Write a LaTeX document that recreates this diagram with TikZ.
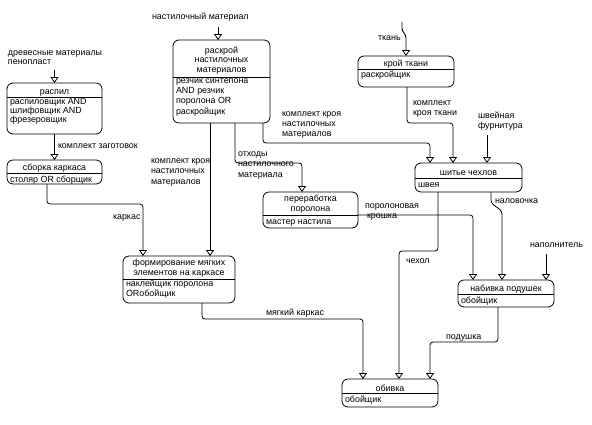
\documentclass[tikz,border=0pt]{standalone}
\usepackage{fontspec}
\setmainfont{Liberation Sans}
\usetikzlibrary{arrows.meta}
\begin{document}
\begin{tikzpicture}[x=1pt,y=-1pt,
  every node/.style={inner sep=0pt, outer sep=0pt},
  lbl/.style={font=\fontsize{8.9}{10}\selectfont, align=left, anchor=north west, execute at begin node={\rule{0pt}{8pt}}},
  ttl/.style={font=\fontsize{8.9}{10}\selectfont, align=center, anchor=north, execute at begin node={\rule{0pt}{8pt}}},
  body/.style={font=\fontsize{8.9}{10}\selectfont, align=left, anchor=north west, execute at begin node={\rule{0pt}{8pt}}},
  box/.style={draw, rounded corners=6pt, line width=0.8pt},
  flow/.style={draw, line width=0.8pt, rounded corners=3pt, -{Triangle[open,width=8pt,length=6pt]}},
  sepl/.style={draw, line width=0.8pt}
]
\useasboundingbox (0,0) rectangle (592,424);

% boxes
\node[box, minimum width=95pt, minimum height=51pt] (raspil) at (54.5,108.5) {};
\node[box, minimum width=95pt, minimum height=24pt] (sborka) at (54.5,172) {};
\node[box, minimum width=97pt, minimum height=83pt] (raskroy) at (221.5,81.5) {};
\node[box, minimum width=96pt, minimum height=31pt] (kroy) at (406,71.5) {};
\node[box, minimum width=107pt, minimum height=29pt] (shitie) at (468.5,177.5) {};
\node[box, minimum width=95pt, minimum height=36pt] (pererab) at (310.5,210) {};
\node[box, minimum width=112pt, minimum height=47pt] (form) at (179,279.5) {};
\node[box, minimum width=96pt, minimum height=27pt] (nabivka) at (506,293.5) {};
\node[box, minimum width=96pt, minimum height=28pt] (obivka) at (390,393) {};

% separators
\draw[sepl] (raspil.west |- 0,97) -- (raspil.east |- 0,97);
\draw[sepl] (sborka.west |- 0,173) -- (sborka.east |- 0,173);
\draw[sepl] (raskroy.west |- 0,77) -- (raskroy.east |- 0,77);
\draw[sepl] (kroy.west |- 0,69) -- (kroy.east |- 0,69);
\draw[sepl] (shitie.west |- 0,178) -- (shitie.east |- 0,178);
\draw[sepl] (pererab.west |- 0,215) -- (pererab.east |- 0,215);
\draw[sepl] (form.west |- 0,279) -- (form.east |- 0,279);
\draw[sepl] (nabivka.west |- 0,294) -- (nabivka.east |- 0,294);
\draw[sepl] (obivka.west |- 0,393) -- (obivka.east |- 0,393);

% titles (top = first baseline - 8)
\node[ttl] (t1) at (54.5,86) {распил};
\node[ttl] (t2) at (54.5,162.5) {сборка каркаса};
\node[ttl, font=\fontsize{8.9}{9.5}\selectfont] (t3) at (221.5,46.5) {раскрой\\настилочных\\материалов};
\node[ttl] (t4) at (406,58) {крой ткани};
\node[ttl] (t5) at (468.5,167) {шитье чехлов};
\node[ttl] (t6) at (310.5,195) {переработка\\поролона};
\node[ttl] (t7) at (179,259) {формирование мягких\\элементов на каркасе};
\node[ttl] (t8) at (506,283.5) {набивка подушек};
\node[ttl] (t9) at (390,383) {обивка};

% bodies (top = first baseline - 8)
\node[body, font=\fontsize{8.9}{9.3}\selectfont] (b1) at (10,98) {распиловщик AND\\шлифовщик AND\\фрезеровщик};
\node[body] (b2) at (10,174.5) {столяр OR сборщик};
\node[body, font=\fontsize{8.9}{10.2}\selectfont] (b3) at (176,78.7) {резчик синтепона\\AND резчик\\поролона OR\\раскройщик};
\node[body] (b4) at (361,69.5) {раскройщик};
\node[body] (b5) at (418,179) {швея};
\node[body] (b6) at (266,216) {мастер настила};
\node[body] (b7) at (126,280) {наклейщик поролона\\ORобойщик};
\node[body] (b8) at (461,295) {обойщик};
\node[body] (b9) at (345,394) {обойщик};

% free ends
\coordinate (in1) at (54.5,70);
\coordinate (in2) at (218,27);
\coordinate (in3) at (402,22);
\coordinate (in4) at (487,135);
\coordinate (in5) at (546,254);

% connectors
\draw[flow] (in1) -- (raspil.north);
\draw[flow] (raspil.south) -- (sborka.north);
\draw[flow] (sborka.south -| 47,0) -- (47,204) -- (143,204) -- (form.north -| 143,0);
\draw[flow] (in2) -- (in2 |- raskroy.north);
\draw[flow] (raskroy.south -| 210,0) -- (form.north -| 210,0);
\draw[flow] (raskroy.south -| 235,0) -- (235,163) -- (302,163) -- (pererab.north -| 302,0);
\draw[flow] (raskroy.south -| 263,0) -- (263,143) -- (430,143) -- (shitie.north -| 430,0);
\draw[flow] (in3) -- (402,31) -- (406,35) -- (kroy.north -| 406,0);
\draw[flow] (kroy.south -| 407,0) -- (407,123) -- (453,123) -- (shitie.north -| 453,0);
\draw[flow] (in4) -- (in4 |- shitie.north);
\draw[flow] (shitie.south -| 491,0) -- (491,203) -- (502,211) -- (nabivka.north -| 502,0);
\draw[flow] (shitie.south -| 438,0) -- (438,251) -- (399,251) -- (obivka.north -| 399,0);
\draw[flow] (pererab.east |- 0,215) -- (473,215) -- (nabivka.north -| 473,0);
\draw[flow] (in5) -- (in5 |- nabivka.north);
\draw[flow] (nabivka.south -| 498,0) -- (498,342) -- (430,342) -- (obivka.north -| 430,0);
\draw[flow] (form.south -| 202,0) -- (202,319) -- (363,319) -- (obivka.north -| 363,0);

% labels (top = centre - 5.5)
\node[lbl, font=\fontsize{8.9}{9}\selectfont] (l1) at (8,50.5) {древесные материалы\\пенопласт};
\node[lbl] (l2) at (152,11) {настилочный материал};
\node[lbl] (l3) at (58,140.5) {комплект заготовок};
\node[lbl] (l4) at (113,211.5) {каркас};
\node[lbl, font=\fontsize{8.9}{10.5}\selectfont] (l5) at (151,158.5) {комплект кроя\\настилочных\\материалов};
\node[lbl, font=\fontsize{8.9}{10.5}\selectfont] (l6) at (238,151.5) {отходы\\настилочного\\материала};
\node[lbl] (l7) at (282,111.5) {комплект кроя\\настилочных\\материалов};
\node[lbl] (l8) at (378,32.5) {ткань};
\node[lbl] (l9) at (413,100.5) {комплект\\кроя ткани};
\node[lbl] (l10) at (478,111.5) {швейная\\фурнитура};
\node[lbl] (l11) at (495,195.5) {наловочка};
\node[lbl, font=\fontsize{8.9}{9.5}\selectfont] (l12) at (365,204) {поролоновая\\\hspace*{2pt}крошка};
\node[lbl] (l13) at (406,255.5) {чехол};
\node[lbl] (l14) at (530,239.5) {наполнитель};
\node[lbl] (l15) at (446,331.5) {подушка};
\node[lbl] (l16) at (266,307.5) {мягкий каркас};
\end{tikzpicture}
\end{document}
